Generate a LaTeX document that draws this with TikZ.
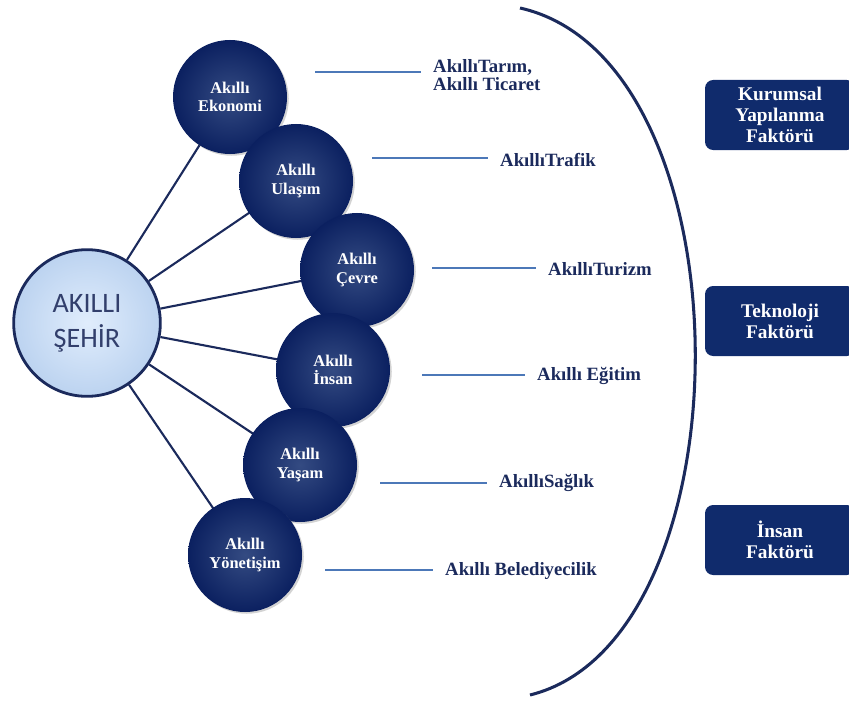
\documentclass[tikz,border=0pt]{standalone}
\usepackage{fontspec}
\setmainfont{Liberation Serif}
\newfontfamily\calibri{Carlito}
\usetikzlibrary{shadows}

\definecolor{lacivert}{HTML}{102B6C}
\definecolor{koyulacivert}{HTML}{0B2060}
\definecolor{yazimavi}{HTML}{1B2A5C}
\definecolor{cizgimavi}{HTML}{4C78B8}
\definecolor{acikmavi}{HTML}{D3E5FB}
\definecolor{kenarmavi}{HTML}{BCD3F0}

\tikzset{
    merkez/.style={circle, draw=yazimavi, line width=2.4pt, minimum size=4.4cm,
        inner color=acikmavi!70!white, outer color=kenarmavi,
        font=\calibri\fontsize{24}{30}\selectfont, text=yazimavi!90!white, align=center},
    alan/.style={circle, minimum size=3.42cm, inner color=lacivert!85!white, outer color=koyulacivert,
        drop shadow={opacity=0.35, shadow xshift=1.5pt, shadow yshift=-1.5pt},
        font=\bfseries\fontsize{14}{16}\selectfont, text=white, align=center},
    etiket/.style={anchor=west, inner sep=0pt, align=left, text=yazimavi,
        font=\bfseries\fontsize{16}{16}\selectfont},
    faktor/.style={rectangle, rounded corners=7pt, fill=lacivert, minimum width=4.5cm, minimum height=2.1cm,
        font=\bfseries\fontsize{16.5}{18}\selectfont, text=white, align=center},
    kol/.style={draw=yazimavi, line width=1.8pt},
    uzanti/.style={draw=cizgimavi, line width=1pt, shorten >=10pt}
}

\begin{document}
\begin{tikzpicture}[x=0.03cm, y=-0.03cm]
    \useasboundingbox (0,0) rectangle (849,704);

    % ana kavram
    \node[merkez] (sehir) at (87,323) {AKILLI\\ŞEHİR};

    % akilli alanlar
    \coordinate (ekonomiM) at (230,97);
    \coordinate (ulasimM) at (296,181);
    \coordinate (cevreM) at (357,270);
    \coordinate (insanM) at (333,370);
    \coordinate (yasamM) at (300,465);
    \coordinate (yonetisimM) at (245,555);

    \draw[kol] (sehir) -- (ekonomiM);
    \draw[kol] (sehir) -- (ulasimM);
    \draw[kol] (sehir) -- (cevreM);
    \draw[kol] (sehir) -- (insanM);
    \draw[kol] (sehir) -- (yasamM);
    \draw[kol] (sehir) -- (yonetisimM);

    \node[alan] (ekonomi) at (ekonomiM) {Akıllı\\Ekonomi};
    \node[alan] (ulasim) at (ulasimM) {Akıllı\\Ulaşım};
    \node[alan] (cevre) at (cevreM) {Akıllı\\Çevre};
    \node[alan] (insan) at (insanM) {Akıllı\\İnsan};
    \node[alan] (yasam) at (yasamM) {Akıllı\\Yaşam};
    \node[alan] (yonetisim) at (yonetisimM) {Akıllı\\Yönetişim};

    % ornek uygulamalar
    \node[etiket] (tarim) at (433,75) {AkıllıTarım,\\Akıllı Ticaret};
    \node[etiket] (trafik) at (500,160) {AkıllıTrafik};
    \node[etiket] (turizm) at (548,269) {AkıllıTurizm};
    \node[etiket] (egitim) at (537,376) {Akıllı Eğitim};
    \node[etiket] (saglik) at (499,483) {AkıllıSağlık};
    \node[etiket] (belediye) at (445,571) {Akıllı Belediyecilik};

    \coordinate (tarimU) at (315,72);
    \coordinate (trafikU) at (372,158);
    \coordinate (turizmU) at (432,268);
    \coordinate (egitimU) at (422,375);
    \coordinate (saglikU) at (380,483);
    \coordinate (belediyeU) at (325,570);

    \draw[uzanti] (tarimU) -- (tarimU -| tarim.west);
    \draw[uzanti] (trafikU) -- (trafikU -| trafik.west);
    \draw[uzanti] (turizmU) -- (turizmU -| turizm.west);
    \draw[uzanti] (egitimU) -- (egitimU -| egitim.west);
    \draw[uzanti] (saglikU) -- (saglikU -| saglik.west);
    \draw[uzanti] (belediyeU) -- (belediyeU -| belediye.west);

    % buyuk parantez
    \coordinate (parantezUst) at (520,8);
    \coordinate (parantezAlt) at (530,695);
    \draw[draw=yazimavi, line width=2.6pt] (parantezUst) .. controls (752,60) and (752,640) .. (parantezAlt);

    % faktorler
    \node[faktor] (kurumsal) at (780,115) {Kurumsal\\Yapılanma\\Faktörü};
    \node[faktor] (teknoloji) at (780,321) {Teknoloji\\Faktörü};
    \node[faktor] (insanfaktor) at (780,540) {İnsan\\Faktörü};
\end{tikzpicture}
\end{document}
